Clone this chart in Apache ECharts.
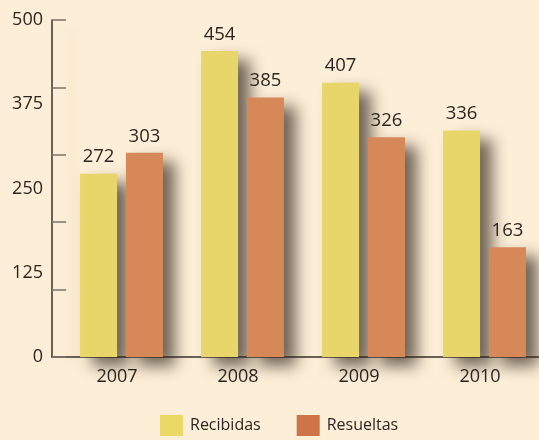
<!DOCTYPE html>
<html>
<head>
<meta charset="utf-8">
<script src="https://cdn.jsdelivr.net/npm/echarts@6/dist/echarts.min.js"></script>
<style>
  html, body { margin: 0; padding: 0; background: #fdeed7; }
  #chart { width: 539px; height: 440px; }
</style>
</head>
<body>
<div id="chart"></div>
<script>
// Solicitudes por año
const years = ['2007', '2008', '2009', '2010'];
const recibidas = [272, 454, 407, 336];
const resueltas = [303, 385, 326, 163];
const seriesNames = ['Recibidas', 'Resueltas'];

const textColor = '#2b2622';
const fontFamily = '"Open Sans", "DejaVu Sans", sans-serif';

const barShadow = {
  shadowColor: 'rgba(45, 35, 25, 0.68)',
  shadowBlur: 15,
  shadowOffsetX: 12,
  shadowOffsetY: 9
};

const valueLabel = {
  show: true,
  position: 'top',
  distance: 7,
  color: textColor,
  fontSize: 18.5,
  fontFamily: fontFamily
};

const chart = echarts.init(document.getElementById('chart'));
chart.setOption({
  backgroundColor: '#fdeed7',
  animation: false,
  legend: {
    left: 160,
    top: 415,
    padding: 0,
    itemWidth: 23,
    itemHeight: 21,
    itemGap: 36,
    icon: 'rect',
    textStyle: { color: textColor, fontSize: 16, fontFamily: fontFamily, padding: [0, 0, 0, 2] },
    data: [
      { name: seriesNames[0], itemStyle: { color: '#ecd866' } },
      { name: seriesNames[1], itemStyle: { color: '#cf7448' } }
    ]
  },
  grid: [
    // plot area for the bars (runs slightly past the right edge)
    { left: 61, width: 484, top: 20, bottom: 83, outerBoundsMode: 'none', containLabel: false },
    // frame: axis lines and tick marks
    { left: 52, right: 0, top: 20, bottom: 83, outerBoundsMode: 'none', containLabel: false }
  ],
  xAxis: [
    {
      type: 'category',
      gridIndex: 0,
      data: years,
      axisLine: { show: false },
      axisTick: { show: false },
      axisLabel: {
        color: textColor,
        fontSize: 18,
        fontFamily: fontFamily,
        margin: 11,
        padding: [0, 9, 0, 0]
      }
    },
    {
      type: 'value',
      gridIndex: 1,
      min: 0,
      max: 1,
      axisLine: { show: true, lineStyle: { color: '#3a332d', width: 1.5 } },
      axisTick: { show: false },
      axisLabel: { show: false },
      splitLine: { show: false }
    }
  ],
  yAxis: [
    {
      type: 'value',
      gridIndex: 0,
      min: 0,
      max: 500,
      interval: 125,
      axisLine: { show: false },
      axisTick: { show: false },
      splitLine: { show: false },
      axisLabel: {
        color: textColor,
        fontSize: 18,
        fontFamily: fontFamily,
        margin: 18,
        padding: [0, 0, 6, 0]
      }
    },
    {
      type: 'value',
      gridIndex: 1,
      min: 0,
      max: 500,
      interval: 100,
      axisLine: {
        show: true,
        lineStyle: {
          color: '#3a332d',
          width: 1.5,
          shadowColor: 'rgba(90, 70, 40, 0.18)',
          shadowBlur: 10,
          shadowOffsetX: 20,
          shadowOffsetY: 8
        }
      },
      axisTick: {
        show: true,
        inside: true,
        length: 14,
        lineStyle: { color: '#7a7470', width: 1.5 }
      },
      axisLabel: { show: false },
      splitLine: { show: false }
    }
  ],
  series: [
    {
      name: seriesNames[0],
      type: 'bar',
      xAxisIndex: 0,
      yAxisIndex: 0,
      data: recibidas,
      barWidth: 37,
      barGap: '24%',
      itemStyle: Object.assign({ color: '#e8d66a' }, barShadow),
      label: valueLabel
    },
    {
      name: seriesNames[1],
      type: 'bar',
      xAxisIndex: 0,
      yAxisIndex: 0,
      data: resueltas,
      barWidth: 37,
      barGap: '24%',
      itemStyle: Object.assign({ color: '#d78858' }, barShadow),
      label: valueLabel
    }
  ]
});
</script>
</body>
</html>
